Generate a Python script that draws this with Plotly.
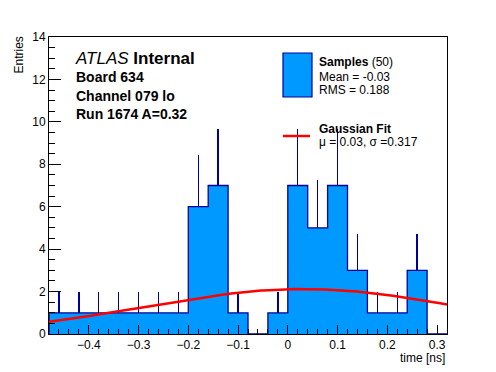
import numpy as np
import plotly.graph_objects as go

# ---- data ----
bin_edges = [round(-0.48 + 0.04 * i, 2) for i in range(21)]
counts = [1, 1, 1, 1, 1, 1, 1, 6, 7, 1, 0, 1, 7, 5, 7, 3, 1, 1, 3, 0]
fit_amp = 2.12
fit_mean = 0.03
fit_sigma = 0.317
y_ticks = [0, 2, 4, 6, 8, 10, 12, 14]
x_ticks = [-0.4, -0.3, -0.2, -0.1, 0.0, 0.1, 0.2, 0.3]

OFF = 8  # page body margin
W, H = 496 - OFF, 372 - OFF
L, R, T, B = 49 - OFF, 447 - OFF, 37 - OFF, 334 - OFF

def px(x):
    return (x - OFF - L) / (R - L)

def py(y):
    return (B - (y - OFF)) / (B - T)

centers = [(bin_edges[i] + bin_edges[i + 1]) / 2 for i in range(len(counts))]
errs = [float(np.sqrt(c)) for c in counts]

FILL = "#0099ff"
EDGE = "#000099"
FONT = "Liberation Sans, Arial, Helvetica, sans-serif"

fig = go.Figure()

fig.add_trace(go.Bar(
    x=centers, y=counts, width=0.04,
    marker=dict(color=FILL, line=dict(width=0)),
    error_y=dict(type="data", symmetric=False, array=errs,
                 arrayminus=[0] * len(counts), color=EDGE, thickness=1.4, width=0),
    showlegend=False, hoverinfo="skip",
))

# histogram outline
sx = [bin_edges[0]] + bin_edges
sy = [0] + counts + [0]
fig.add_trace(go.Scatter(x=sx, y=sy, mode="lines", line=dict(color=EDGE, width=1.3, shape="hv"),
                         showlegend=False, hoverinfo="skip"))

# Gaussian fit curve
xf = np.linspace(bin_edges[0], bin_edges[-1], 200)
yf = fit_amp * np.exp(-0.5 * ((xf - fit_mean) / fit_sigma) ** 2)
fig.add_trace(go.Scatter(x=xf, y=yf, mode="lines", line=dict(color="#ff0000", width=2.5),
                         showlegend=False, hoverinfo="skip"))

annotations = []

def txt(text, x, y, size, xanchor="left", yanchor="middle", angle=0):
    annotations.append(dict(text=text, x=px(x), y=py(y), xref="paper", yref="paper",
                            xanchor=xanchor, yanchor=yanchor, showarrow=False, textangle=angle,
                            font=dict(family=FONT, size=size, color="black")))

txt("<i>ATLAS</i> <b>Internal</b>", 73, 58, 17)
txt("<b>Board 634</b>", 74, 77, 14)
txt("<b>Channel 079 lo</b>", 74, 96, 14)
txt("<b>Run 1674 A=0.32</b>", 74, 114, 14)

txt("<b>Samples</b> (50)", 317, 62, 12)
txt("Mean = -0.03", 317, 77, 12)
txt("RMS = 0.188", 317, 90, 12)
txt("<b>Gaussian Fit</b>", 317, 129, 12)
txt("\u03bc = 0.03, \u03c3 =0.317", 317, 142, 12)

txt("Entries", 18, 35, 12, xanchor="center", yanchor="top", angle=-90)
txt("time [ns]", 447, 358, 12, xanchor="right")

shapes = [
    dict(type="rect", xref="paper", yref="paper", x0=px(283), x1=px(312), y0=py(97), y1=py(53),
         fillcolor=FILL, line=dict(color=EDGE, width=1.2)),
    dict(type="line", xref="paper", yref="paper", x0=px(283), x1=px(310), y0=py(136), y1=py(136),
         line=dict(color="#ff0000", width=2.5)),
]

fig.update_layout(
    width=W, height=H,
    margin=dict(l=L, r=W - R, t=T, b=H - B, pad=0, autoexpand=False),
    paper_bgcolor="white", plot_bgcolor="white",
    bargap=0,
    font=dict(family=FONT, size=12, color="black"),
    annotations=annotations, shapes=shapes,
    xaxis=dict(range=[bin_edges[0], bin_edges[-1]], tickvals=x_ticks,
               ticktext=[("\u2212" if v < 0 else "") + ("%g" % abs(v)) for v in x_ticks],
               ticks="inside", ticklen=9, tickwidth=1, tickcolor="black",
               minor=dict(dtick=0.02, tick0=0, ticks="inside", ticklen=5, tickcolor="black"),
               showline=True, linecolor="black", linewidth=1, mirror=True,
               showgrid=False, zeroline=False, tickfont=dict(size=12)),
    yaxis=dict(range=[0, 14], tickvals=y_ticks,
               ticks="inside", ticklen=12, tickwidth=1, tickcolor="black",
               minor=dict(dtick=0.5, tick0=0, ticks="inside", ticklen=6, tickcolor="black"),
               showline=True, linecolor="black", linewidth=1, mirror=True,
               showgrid=False, zeroline=False, tickfont=dict(size=12)),
)

fig.write_html("out.html")
